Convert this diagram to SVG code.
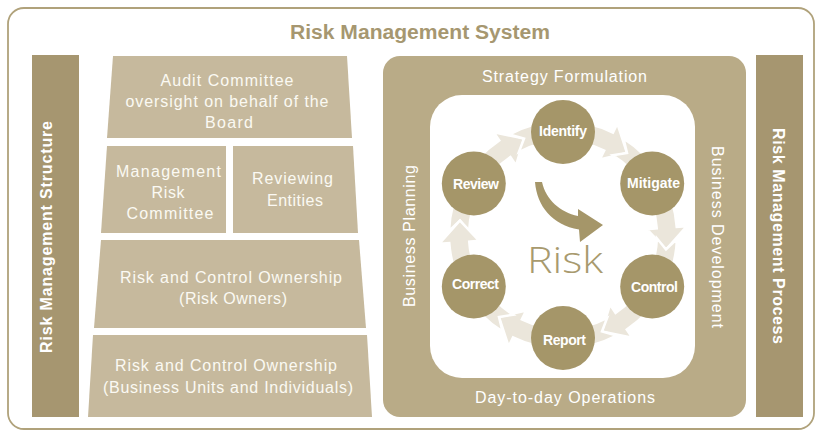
<svg xmlns="http://www.w3.org/2000/svg" width="815" height="432" viewBox="0 0 815 432">
<style>
.frame{fill:#fff;stroke:#b0a27b;stroke-width:1.8}
.bar{fill:#a69670}
.bartxt{font-family:"Liberation Sans",Arial,sans-serif;font-weight:bold;font-size:16px;fill:#fff;text-anchor:middle}
.trap{fill:#c6b99d}
.ttxt{font-family:"Liberation Sans",Arial,sans-serif;font-size:16px;fill:#fbf9f3;text-anchor:middle}
.panel{fill:#b9ab87}
.inner{fill:#fff}
.ptxt{font-family:"Liberation Sans",Arial,sans-serif;font-size:16px;fill:#fff;text-anchor:middle}
.ring{fill:#ebe6db;stroke:#fff;stroke-width:2.5;stroke-linejoin:miter}
.circ{fill:#a59669}
.ctxt{font-family:"Liberation Sans",Arial,sans-serif;font-weight:bold;font-size:14px;fill:#fff;text-anchor:middle}
.title{font-family:"Liberation Sans",Arial,sans-serif;font-weight:bold;font-size:20px;fill:#a69770;text-anchor:middle}
</style>
<rect class="frame" x="8" y="8" width="806" height="421" rx="16"/>
<text class="title" x="420" y="39" textLength="260" lengthAdjust="spacingAndGlyphs">Risk Management System</text>

<g id="structure-bar">
<rect class="bar" x="32" y="55" width="47" height="362"/>
<text class="bartxt" transform="translate(52,237) rotate(-90)" textLength="232" lengthAdjust="spacing">Risk Management Structure</text>
</g>
<g id="process-bar">
<rect class="bar" x="756" y="55" width="47" height="362"/>
<text class="bartxt" transform="translate(773,236) rotate(90)" textLength="216" lengthAdjust="spacing">Risk Management Process</text>
</g>

<g id="audit-committee">
<polygon class="trap" points="113,56 347,56 352,138 107,138"/>
<text class="ttxt" x="227" y="86" textLength="133" lengthAdjust="spacing">Audit Committee</text>
<text class="ttxt" x="227" y="107" textLength="203" lengthAdjust="spacing">oversight on behalf of the</text>
<text class="ttxt" x="229" y="128" textLength="48" lengthAdjust="spacing">Board</text>
</g>
<g id="management-risk-committee">
<polygon class="trap" points="107,146 226,146 226,233 101,233"/>
<text class="ttxt" x="168.5" y="177" textLength="105" lengthAdjust="spacing">Management</text>
<text class="ttxt" x="168" y="198" textLength="33" lengthAdjust="spacing">Risk</text>
<text class="ttxt" x="170" y="219" textLength="87" lengthAdjust="spacing">Committee</text>
</g>
<g id="reviewing-entities">
<polygon class="trap" points="233,146 353,146 358,233 233,233"/>
<text class="ttxt" x="292.5" y="184" textLength="81" lengthAdjust="spacing">Reviewing</text>
<text class="ttxt" x="295" y="205.5" textLength="56" lengthAdjust="spacing">Entities</text>
</g>
<g id="risk-owners">
<polygon class="trap" points="101,240 359,240 366,328 94,328"/>
<text class="ttxt" x="231" y="283" textLength="222" lengthAdjust="spacing">Risk and Control Ownership</text>
<text class="ttxt" x="233" y="304" textLength="108" lengthAdjust="spacing">(Risk Owners)</text>
</g>
<g id="business-units">
<polygon class="trap" points="93,335 367,335 372,417 88,417"/>
<text class="ttxt" x="226" y="370.5" textLength="222" lengthAdjust="spacing">Risk and Control Ownership</text>
<text class="ttxt" x="228" y="393" textLength="250" lengthAdjust="spacing">(Business Units and Individuals)</text>
</g>

<g id="process-panel">
<rect class="panel" x="383" y="56" width="363" height="361" rx="17"/>
<rect class="inner" x="430" y="95" width="265" height="283" rx="32"/>
<text class="ptxt" x="564.5" y="82" textLength="165" lengthAdjust="spacing">Strategy Formulation</text>
<text class="ptxt" x="565" y="403" textLength="180" lengthAdjust="spacing">Day-to-day Operations</text>
<text class="ptxt" transform="translate(415,236) rotate(-90)" textLength="142" lengthAdjust="spacing">Business Planning</text>
<text class="ptxt" transform="translate(712,237) rotate(90)" textLength="182" lengthAdjust="spacing">Business Development</text>
</g>

<g id="connectors">
<path class="ring" d="M 449.07,231.02 A 114 114 0 0 1 499.25,140.49 L 493.66,132.20 L 524.04,138.57 L 516.03,165.36 L 510.44,157.07 A 94 94 0 0 0 469.06,231.72 L 460.01,220.52 Z"/>
<path class="ring" d="M 509.48,134.35 A 114 114 0 0 1 612.98,132.54 L 617.36,123.55 L 627.03,153.05 L 599.83,159.50 L 604.21,150.51 A 94 94 0 0 0 518.87,152.01 L 524.04,138.57 Z"/>
<path class="ring" d="M 623.41,138.33 A 114 114 0 0 1 676.73,227.04 L 686.70,226.34 L 665.99,249.48 L 646.80,229.14 L 656.77,228.44 A 94 94 0 0 0 612.81,155.29 L 627.03,153.05 Z"/>
<path class="ring" d="M 676.93,238.98 A 114 114 0 0 1 626.75,329.51 L 632.34,337.80 L 601.96,331.43 L 609.97,304.64 L 615.56,312.93 A 94 94 0 0 0 656.94,238.28 L 665.99,249.48 Z"/>
<path class="ring" d="M 616.52,335.65 A 114 114 0 0 1 513.02,337.46 L 508.64,346.45 L 498.97,316.95 L 526.17,310.50 L 521.79,319.49 A 94 94 0 0 0 607.13,317.99 L 601.96,331.43 Z"/>
<path class="ring" d="M 502.59,331.67 A 114 114 0 0 1 449.27,242.96 L 439.30,243.66 L 460.01,220.52 L 479.20,240.86 L 469.23,241.56 A 94 94 0 0 0 513.19,314.71 L 498.97,316.95 Z"/>
<path fill="#a59669" d="M 535,182 C 537,206 552,225 579,229.5 L 580,242 L 603,225 L 578,209 L 578,216 C 560,212 546,200 542,182 Z"/>
</g>

<g id="risk-label">
<text x="565" y="273" font-family="'Open Sans','Liberation Sans',sans-serif" font-weight="300" font-size="37" fill="#a89a6e" text-anchor="middle" textLength="76" lengthAdjust="spacingAndGlyphs">Risk</text>
</g>

<g id="identify"><circle class="circ" cx="563" cy="132" r="32"/><text class="ctxt" x="563" y="136" textLength="48" lengthAdjust="spacing">Identify</text></g>
<g id="mitigate"><circle class="circ" cx="652.2" cy="183.5" r="32"/><text class="ctxt" x="653.5" y="188" textLength="53" lengthAdjust="spacing">Mitigate</text></g>
<g id="control"><circle class="circ" cx="652.2" cy="286.5" r="32"/><text class="ctxt" x="654.5" y="292" textLength="47" lengthAdjust="spacing">Control</text></g>
<g id="report"><circle class="circ" cx="563" cy="338" r="32"/><text class="ctxt" x="564.5" y="345" textLength="43" lengthAdjust="spacing">Report</text></g>
<g id="correct"><circle class="circ" cx="473.8" cy="286.5" r="32"/><text class="ctxt" x="475.5" y="289" textLength="47" lengthAdjust="spacing">Correct</text></g>
<g id="review"><circle class="circ" cx="473.8" cy="183.5" r="32"/><text class="ctxt" x="476" y="189" textLength="46" lengthAdjust="spacing">Review</text></g>
</svg>
